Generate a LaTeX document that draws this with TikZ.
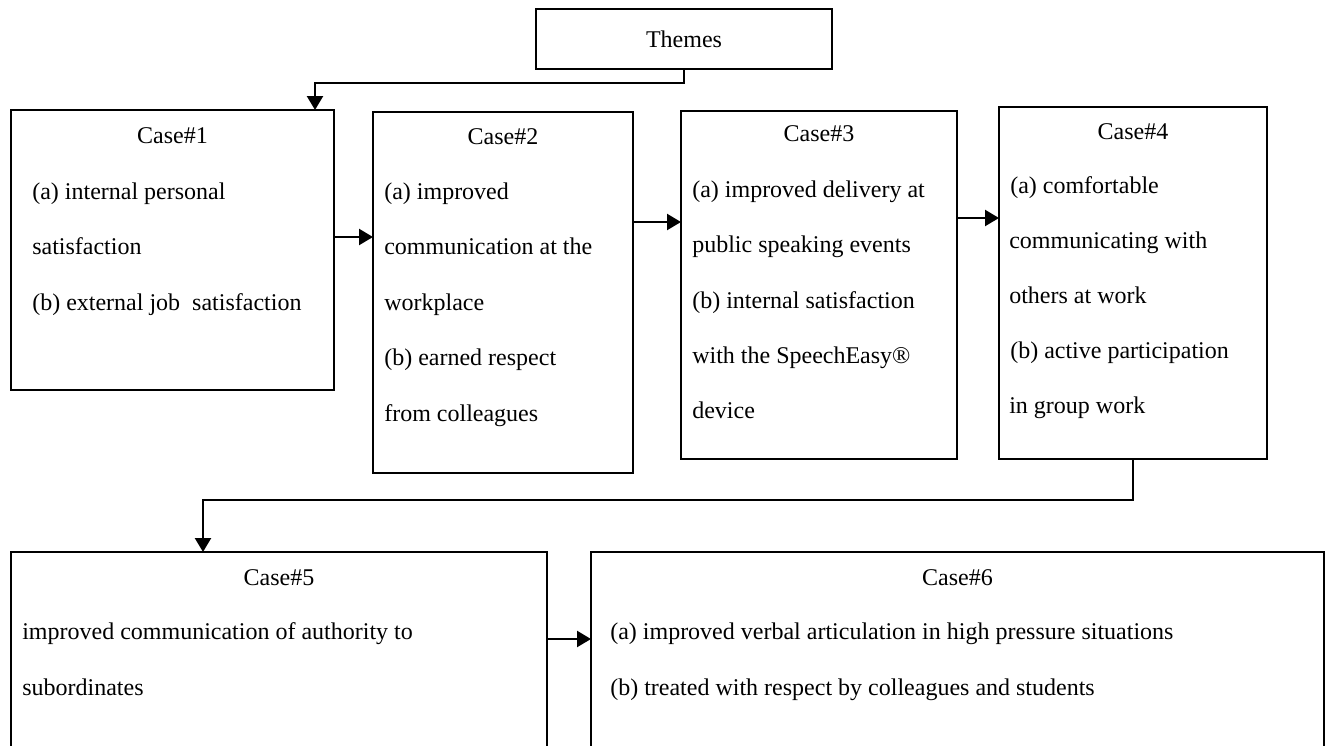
\documentclass[tikz,border=0pt]{standalone}
\usepackage{fontspec}
\setmainfont{Liberation Serif}
\usetikzlibrary{arrows.meta}
\begin{document}
\begin{tikzpicture}[x=0.75pt,y=-0.75pt,
  box/.style={draw, line width=1.1pt, inner sep=0pt, outer sep=0pt},
  conn/.style={line width=1.7pt, -{Triangle[length=10.5pt,width=12pt]}},
  head/.style={anchor=base, inner sep=0pt, font=\fontsize{18}{22}\selectfont},
  item/.style={anchor=base west, inner sep=0pt, font=\fontsize{18}{22}\selectfont}]
\useasboundingbox (0,0) rectangle (1325,746);
\begin{scope}
\clip (0,0) rectangle (1325,746);

% theme box
\node[box, minimum width=296*0.75pt, minimum height=60*0.75pt,
      font=\fontsize{18}{22}\selectfont] (th) at (684,39) {Themes};

% case boxes
\node[box, minimum width=323*0.75pt, minimum height=280*0.75pt] (c1) at (172.5,250) {};
\node[box, minimum width=260*0.75pt, minimum height=361*0.75pt] (c2) at (503,292.5) {};
\node[box, minimum width=276*0.75pt, minimum height=348*0.75pt] (c3) at (819,285) {};
\node[box, minimum width=268*0.75pt, minimum height=352*0.75pt] (c4) at (1133,283) {};
\node[box, minimum width=536*0.75pt, minimum height=218*0.75pt] (c5) at (279,661) {};
\node[box, minimum width=733*0.75pt, minimum height=218*0.75pt] (c6) at (957.5,661) {};

% case 1
\node[head] (h1) at (172.5,143) {Case\#1};
\node[item] (l1a) at (32,199) {(a) internal personal};
\node[item] (l1b) at (32,254) {satisfaction};
\node[item] (l1c) at (32,310) {(b) external job\ \ satisfaction};

% case 2
\node[head] (h2) at (503,144) {Case\#2};
\node[item] (l2a) at (384,199) {(a) improved};
\node[item] (l2b) at (384,254) {communication at the};
\node[item] (l2c) at (384,310) {workplace};
\node[item] (l2d) at (384,365) {(b) earned respect};
\node[item] (l2e) at (384,421) {from colleagues};

% case 3
\node[head] (h3) at (819,141) {Case\#3};
\node[item] (l3a) at (692,197) {(a) improved delivery at};
\node[item] (l3b) at (692,252) {public speaking events};
\node[item] (l3c) at (692,308) {(b) internal satisfaction};
\node[item] (l3d) at (692,363) {with the SpeechEasy®};
\node[item] (l3e) at (692,418) {device};

% case 4
\node[head] (h4) at (1133,139) {Case\#4};
\node[item] (l4a) at (1004,193) {\ (a) comfortable};
\node[item] (l4b) at (1009,248) {communicating with};
\node[item] (l4c) at (1009,303) {others at work};
\node[item] (l4d) at (1004,358) {\ (b) active participation};
\node[item] (l4e) at (1009,413) {in group work};

% case 5
\node[head] (h5) at (279,585) {Case\#5};
\node[item] (l5a) at (22,639) {improved communication of authority to};
\node[item] (l5b) at (22,695) {subordinates};

% case 6
\node[head] (h6) at (957.5,585) {Case\#6};
\node[item] (l6a) at (610,639) {(a) improved verbal articulation in high pressure situations};
\node[item] (l6b) at (610,695) {(b) treated with respect by colleagues and students};

% connectors
\coordinate (j1) at (684,83);
\draw[conn] (th.south) -- (j1) -| ([xshift=-14.25pt]c1.north east);

\coordinate (a12) at (0,237);
\draw[conn] (c1.east |- a12) -- (c2.west |- a12);
\coordinate (a23) at (0,222);
\draw[conn] (c2.east |- a23) -- (c3.west |- a23);
\coordinate (a34) at (0,218);
\draw[conn] (c3.east |- a34) -- (c4.west |- a34);

\coordinate (j2) at (203,500);
\draw[conn] (c4.south) |- (j2) -- (j2 |- c5.north);

\coordinate (a56) at (0,639);
\draw[conn] (c5.east |- a56) -- (c6.west |- a56);
\end{scope}
\end{tikzpicture}
\end{document}
